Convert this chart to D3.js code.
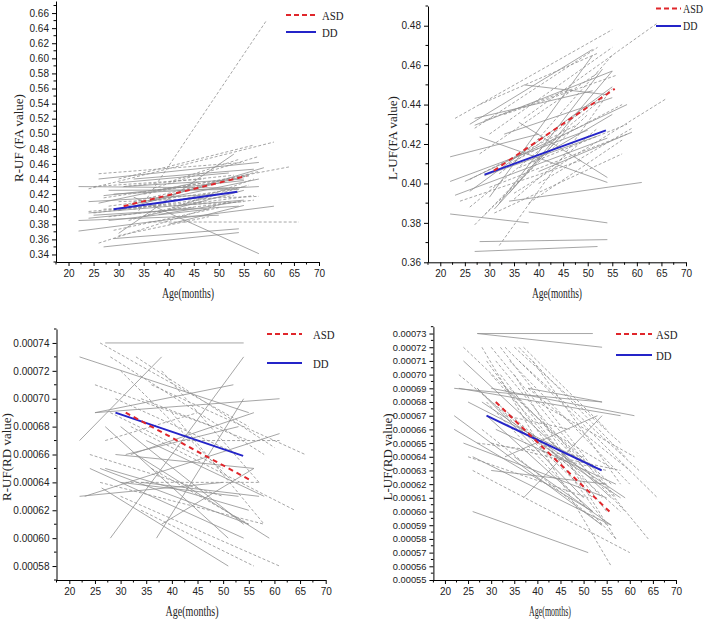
<!DOCTYPE html>
<html><head><meta charset="utf-8">
<script src="https://cdn.jsdelivr.net/npm/d3@7"></script>
<style>
body{margin:0;background:#fff;}
svg{display:block;}
.tick text{font-family:"Liberation Sans Narrow","Arial Narrow","Liberation Sans",sans-serif;font-size:10px;fill:#222;}
.ttl{font-family:"Liberation Serif","Times New Roman",serif;font-size:13px;fill:#222;}
.xt{font-family:"Liberation Serif","Times New Roman",serif;font-size:14.5px;fill:#222;}
.leg{font-family:"Liberation Serif","Times New Roman",serif;fill:#222;}
</style></head><body>
<svg id="c" width="709" height="620"></svg>
<script>
// ---------- DATA ----------
const xTicks = [20,25,30,35,40,45,50,55,60,65,70];
const seriesNames = ["ASD","DD"];

// Panel 1: R-UF (FA value)   each subject: [age1, value1, age2, value2]
const p1Ticks = [0.34,0.36,0.38,0.40,0.42,0.44,0.46,0.48,0.50,0.52,0.54,0.56,0.58,0.60,0.62,0.64,0.66];
const p1DD = [[22,0.430,54,0.428],[22,0.371,61,0.404],[22,0.385,50,0.392],[27,0.350,54,0.369],[29,0.361,54,0.374],
 [33,0.416,58,0.341],[26,0.440,58,0.462],[30,0.368,53,0.473],[24,0.395,55,0.412],[25,0.392,54,0.404],
 [27,0.418,55,0.438],[28,0.425,54,0.426],[30,0.398,59,0.455],[32,0.405,56,0.445],[35,0.390,55,0.425],
 [38,0.393,54,0.410],[26,0.408,46,0.436],[30,0.435,52,0.448],[33,0.440,57,0.453],[28,0.385,48,0.400],
 [40,0.380,55,0.405],[24,0.388,45,0.402],[31,0.430,55,0.440],[36,0.410,58,0.440],[24,0.410,50,0.420],
 [29,0.420,58,0.430]];
const p1ASD = [[34,0.398,59.5,0.650],[24,0.427,61,0.489],[26,0.447,55,0.462],[36,0.383,66,0.383],[26,0.355,52,0.410],
 [35,0.420,64,0.456],[30,0.410,58,0.417],[28,0.390,57,0.412],[25,0.395,53,0.418],[32,0.385,56,0.432],
 [29,0.372,50,0.402],[31,0.430,53,0.445],[27,0.415,56,0.444],[37,0.428,58,0.470],[40,0.436,54,0.466],
 [30,0.440,57,0.485],[33,0.400,55,0.430],[24,0.397,47,0.410],[38,0.395,57,0.440],[28,0.404,52,0.425],
 [42,0.405,57,0.418],[30,0.365,48,0.390],[27,0.400,55,0.410],[33,0.410,58,0.450],[25,0.430,47,0.440]];
const p1MeanASD = [31,0.404,55.5,0.444];
const p1MeanDD  = [29,0.400,53.7,0.423];

// Panel 2: L-UF (FA value)
const p2Ticks = [0.36,0.38,0.40,0.42,0.44,0.46,0.48];
const p2DD = [[22,0.4135,40,0.425],[22,0.401,50,0.427],[22,0.3845,38,0.380],[38,0.3855,54,0.380],[28,0.3705,54,0.3715],
 [27,0.3655,52,0.368],[23,0.394,54,0.423],[34,0.391,61,0.4005],[26,0.430,51,0.468],[27,0.4295,55,0.457],
 [28,0.4235,54,0.4005],[36,0.431,54,0.403],[25,0.401,58,0.440],[30,0.393,51,0.465],[32,0.390,53,0.458],
 [26,0.396,55,0.449],[34,0.395,55,0.457],[29,0.404,52,0.424],[37,0.450,54,0.445],[27,0.433,51,0.447],
 [38,0.410,55,0.435],[40,0.406,59,0.426],[31,0.387,46,0.428],[33,0.425,55,0.4435]];
const p2ASD = [[23,0.433,55,0.478],[27,0.428,52,0.469],[32,0.3685,54,0.445],[35,0.395,66,0.443],[37,0.433,64,0.481],
 [29,0.384,50,0.435],[31,0.385,57,0.415],[30,0.398,58,0.425],[27,0.379,45,0.425],[26,0.388,53,0.443],
 [24,0.391,49,0.412],[33,0.435,56,0.455],[28,0.415,52,0.456],[30,0.425,55,0.469],[36,0.408,58,0.430],
 [35,0.392,52,0.428],[39,0.420,55,0.465],[29,0.432,47,0.448],[32,0.405,55,0.448],[38,0.390,57,0.422],
 [40,0.400,59,0.428],[26,0.402,48,0.430],[28,0.440,52,0.466],[34,0.410,57,0.440]];
const p2MeanASD = [30.9,0.4065,55.5,0.448];
const p2MeanDD  = [29,0.4045,53.7,0.4269];

// Panel 3: R-UF (RD value)
const p3Ticks = [0.00058,0.00060,0.00062,0.00064,0.00066,0.00068,0.00070,0.00072,0.00074];
const p3DD = [[27,0.00074,54,0.00074],[22,0.00073,55,0.00069],[22,0.00067,38,0.00073],[28,0.00060,54,0.00073],[25,0.00069,52,0.00071],
 [25,0.00069,61,0.00070],[27,0.00068,51,0.00060],[23,0.00063,61,0.000675],[24,0.00065,54,0.00060],[26.3,0.000636,51,0.00058],
 [37,0.00060,54,0.00070],[29,0.00066,56,0.00065],[22,0.00063,50,0.00064],[30,0.00068,54,0.00061],[30,0.00064,53,0.00063],
 [33,0.00066,59,0.00060],[27,0.00065,55,0.00062],[34,0.00064,57,0.00063],[31,0.00066,53,0.00068],[38,0.00061,56,0.00065],
 [26,0.00065,55,0.00061],[35,0.00067,58,0.00063],[32,0.00066,56,0.00069]];
const p3ASD = [[26,0.00074,55,0.00068],[25,0.00071,48,0.00068],[28,0.00073,58,0.00066],[30,0.00072,52,0.00064],[33,0.00073,60,0.000665],
 [36,0.00071,66,0.00066],[32,0.00068,64,0.00062],[26,0.00064,58,0.00061],[30,0.00063,61,0.00058],[34,0.00062,56,0.00058],
 [24,0.00066,50,0.00063],[38,0.00072,57,0.00064],[28,0.00069,50,0.00065],[34,0.00070,55,0.00067],[40,0.00069,58,0.00061],
 [27,0.00067,45,0.00069],[31,0.00064,57,0.00064],[42,0.00067,61,0.00067],[36,0.00065,55,0.00061],[29,0.00070,53,0.00066]];
const p3MeanASD = [31,0.00069,55.6,0.000641];
const p3MeanDD  = [29,0.00069,53.9,0.000659];

// Panel 4: L-UF (RD value)
const p4Ticks = [0.00055,0.00056,0.00057,0.00058,0.00059,0.00060,0.00061,0.00062,0.00063,0.00064,0.00065,0.00066,0.00067,0.00068,0.00069,0.00070,0.00071,0.00072,0.00073];
const p4DD = [[27,0.00073,52,0.00073],[27,0.00073,54,0.00072],[26,0.00060,51,0.00057],[24,0.00071,56,0.00061],[22,0.00069,54,0.00068],
 [23,0.00069,58,0.00067],[30,0.00069,61,0.00067],[22,0.00067,54,0.00059],[22,0.00066,52,0.00060],[24,0.00065,55,0.00061],
 [26,0.00064,56,0.00059],[28,0.00068,59,0.00061],[37,0.00061,54,0.00067],[33,0.00064,53,0.00067],[29,0.00067,52,0.00060],
 [31,0.00066,57,0.00062],[30,0.00063,55,0.00062],[27,0.00069,50,0.00061],[35,0.00064,56,0.00059],[25,0.00068,54,0.00063],
 [36,0.00066,58,0.00061],[38,0.00069,54,0.00068]];
const p4ASD = [[24,0.00072,52,0.00063],[26,0.00063,60,0.00057],[28,0.00072,56,0.00056],[30,0.00072,64,0.00058],[33,0.00072,66,0.00061],
 [36,0.00071,62,0.00063],[38,0.00069,60,0.00063],[32,0.00070,55,0.00060],[23,0.00070,48,0.00063],[35,0.00072,58,0.00065],
 [29,0.00068,57,0.00058],[40,0.00068,61,0.00064],[31,0.00071,53,0.00062],[34,0.00069,59,0.00060],[27,0.00065,50,0.00064],
 [42,0.00066,57,0.00063],[25,0.00064,51,0.00061],[30,0.00065,55,0.00063],[37,0.00072,55,0.00066],[28,0.00066,54,0.00059],
 [44,0.00064,58,0.00063],[33,0.00067,47,0.00066],[29,0.00071,55,0.00059],[32,0.00072,57,0.00061],[34,0.00071,60,0.00062],
 [36,0.00072,59,0.00064],[30,0.00070,54,0.00061],[33,0.00069,56,0.00062],[35,0.00070,57,0.00058],[27,0.00069,52,0.00061],
 [39,0.00071,58,0.00062],[31,0.00068,58,0.00060]];
const p4MeanASD = [31,0.00068,55.6,0.00060];
const p4MeanDD  = [29,0.00067,53.9,0.00063];

// ---------- LAYOUT ----------
const panels = [
 {dd:p1DD, asd:p1ASD, mA:p1MeanASD, mD:p1MeanDD, ticks:p1Ticks, minorStep:0.01, fmt:d3.format(".2f"), tfs:10,
  yDom:[0.33,0.676], xr:[56,319], yr:[262,1], ytitle:"R-UF (FA value)", ytx:18, yty:138, xtx:188, xty:298, xtw:52,
  leg:{x1:286,x2:316,tx:322,yA:15,yD:32,fs:13.5}},
 {dd:p2DD, asd:p2ASD, mA:p2MeanASD, mD:p2MeanDD, ticks:p2Ticks, minorStep:0.01, fmt:d3.format(".2f"), tfs:10,
  yDom:[0.36,0.49], xr:[428,686], yr:[262.3,6], ytitle:"L-UF(FA value)", ytx:392, yty:138, xtx:557, xty:298, xtw:50,
  leg:{x1:656,x2:681,tx:683,yA:8.5,yD:26,fs:12.5}},
 {dd:p3DD, asd:p3ASD, mA:p3MeanASD, mD:p3MeanDD, ticks:p3Ticks, minorStep:0.00001, fmt:d3.format(".5f"), tfs:10,
  yDom:[0.00057,0.00075], xr:[56.5,325.7], yr:[580,329], ytitle:"R-UF(RD value)", ytx:6, yty:457, xtx:192, xty:616, xtw:53,
  leg:{x1:267,x2:302,tx:313,yA:334,yD:363,fs:13.5}},
 {dd:p4DD, asd:p4ASD, mA:p4MeanASD, mD:p4MeanDD, ticks:p4Ticks, minorStep:0.000005, fmt:d3.format(".5f"), tfs:9.3,
  yDom:[0.00055,0.000735], xr:[433.4,676], yr:[580,326.7], ytitle:"L-UF(RD value)", ytx:387, yty:457, xtx:550, xty:616, xtw:42,
  leg:{x1:616,x2:652,tx:656,yA:334,yD:355,fs:13.5}}
];

const svg = d3.select("#c");
const GRAY = "#8f8f8f", RED = "#e0262b", BLUE = "#2424c8";

function squeeze(sel, width){
  const n = sel.node(); const w = n.getComputedTextLength();
  sel.attr("textLength", width != null ? width : w*0.8).attr("lengthAdjust","spacingAndGlyphs");
}

panels.forEach(p => {
  const x = d3.scaleLinear().domain([17.5,70]).range(p.xr);
  const y = d3.scaleLinear().domain(p.yDom).range(p.yr);
  const g = svg.append("g");

  // subject lines
  const seg = (arr, cls) => g.selectAll("line."+cls).data(arr).join("line").attr("class",cls)
     .attr("x1",d=>x(d[0])).attr("y1",d=>y(d[1])).attr("x2",d=>x(d[2])).attr("y2",d=>y(d[3]));
  seg(p.dd,"dd").attr("stroke",GRAY).attr("stroke-width",0.8);
  seg(p.asd,"asd").attr("stroke",GRAY).attr("stroke-width",0.8).attr("stroke-dasharray","3,2");

  // mean lines
  g.append("line").attr("x1",x(p.mD[0])).attr("y1",y(p.mD[1])).attr("x2",x(p.mD[2])).attr("y2",y(p.mD[3]))
    .attr("stroke",BLUE).attr("stroke-width",2);
  g.append("line").attr("x1",x(p.mA[0])).attr("y1",y(p.mA[1])).attr("x2",x(p.mA[2])).attr("y2",y(p.mA[3]))
    .attr("stroke",RED).attr("stroke-width",2).attr("stroke-dasharray","5,4");

  // axes
  const xMinor = d3.range(17.5,70.01,2.5).filter(v => xTicks.indexOf(v) < 0);
  const yMinor = d3.range(p.yDom[0], p.yDom[1]+1e-12, p.minorStep).filter(v=>!p.ticks.some(t=>Math.abs(t-v)<p.minorStep/10));
  const xa = g.append("g").attr("transform",`translate(0,${p.yr[0]})`)
    .call(d3.axisBottom(x).tickValues(xTicks).tickSize(4).tickSizeOuter(0).tickPadding(4).tickFormat(d3.format("d")));
  xa.selectAll(".minor").data(xMinor).join("line").attr("class","minor")
    .attr("x1",d=>x(d)).attr("x2",d=>x(d)).attr("y1",0).attr("y2",2.5).attr("stroke","#000");
  const ya = g.append("g").attr("transform",`translate(${p.xr[0]},0)`)
    .call(d3.axisLeft(y).tickValues(p.ticks).tickSize(4).tickSizeOuter(0).tickPadding(3).tickFormat(p.fmt));
  ya.selectAll(".tick text").style("font-size", p.tfs+"px");
  ya.selectAll(".minor").data(yMinor).join("line").attr("class","minor")
    .attr("y1",d=>y(d)).attr("y2",d=>y(d)).attr("x1",0).attr("x2",-2.5).attr("stroke","#000");
  g.selectAll(".domain").attr("stroke","#000");

  // titles
  const xt = g.append("text").attr("class","xt").attr("x",p.xtx).attr("y",p.xty).attr("text-anchor","middle").text("Age(months)");
  squeeze(xt, p.xtw);
  g.append("text").attr("class","ttl").attr("transform",`translate(${p.ytx},${p.yty}) rotate(-90)`)
    .attr("text-anchor","middle").attr("dy","0.35em").text(p.ytitle);

  // legend
  const L = p.leg;
  g.append("line").attr("x1",L.x1).attr("x2",L.x2).attr("y1",L.yA).attr("y2",L.yA)
    .attr("stroke",RED).attr("stroke-width",2).attr("stroke-dasharray","5,3");
  g.append("line").attr("x1",L.x1).attr("x2",L.x2).attr("y1",L.yD).attr("y2",L.yD)
    .attr("stroke",BLUE).attr("stroke-width",2);
  squeeze(g.append("text").attr("class","leg").style("font-size",L.fs+"px").attr("x",L.tx).attr("y",L.yA).attr("dy","0.35em").text(seriesNames[0]));
  squeeze(g.append("text").attr("class","leg").style("font-size",L.fs+"px").attr("x",L.tx).attr("y",L.yD).attr("dy","0.35em").text(seriesNames[1]));
});
</script></body></html>
